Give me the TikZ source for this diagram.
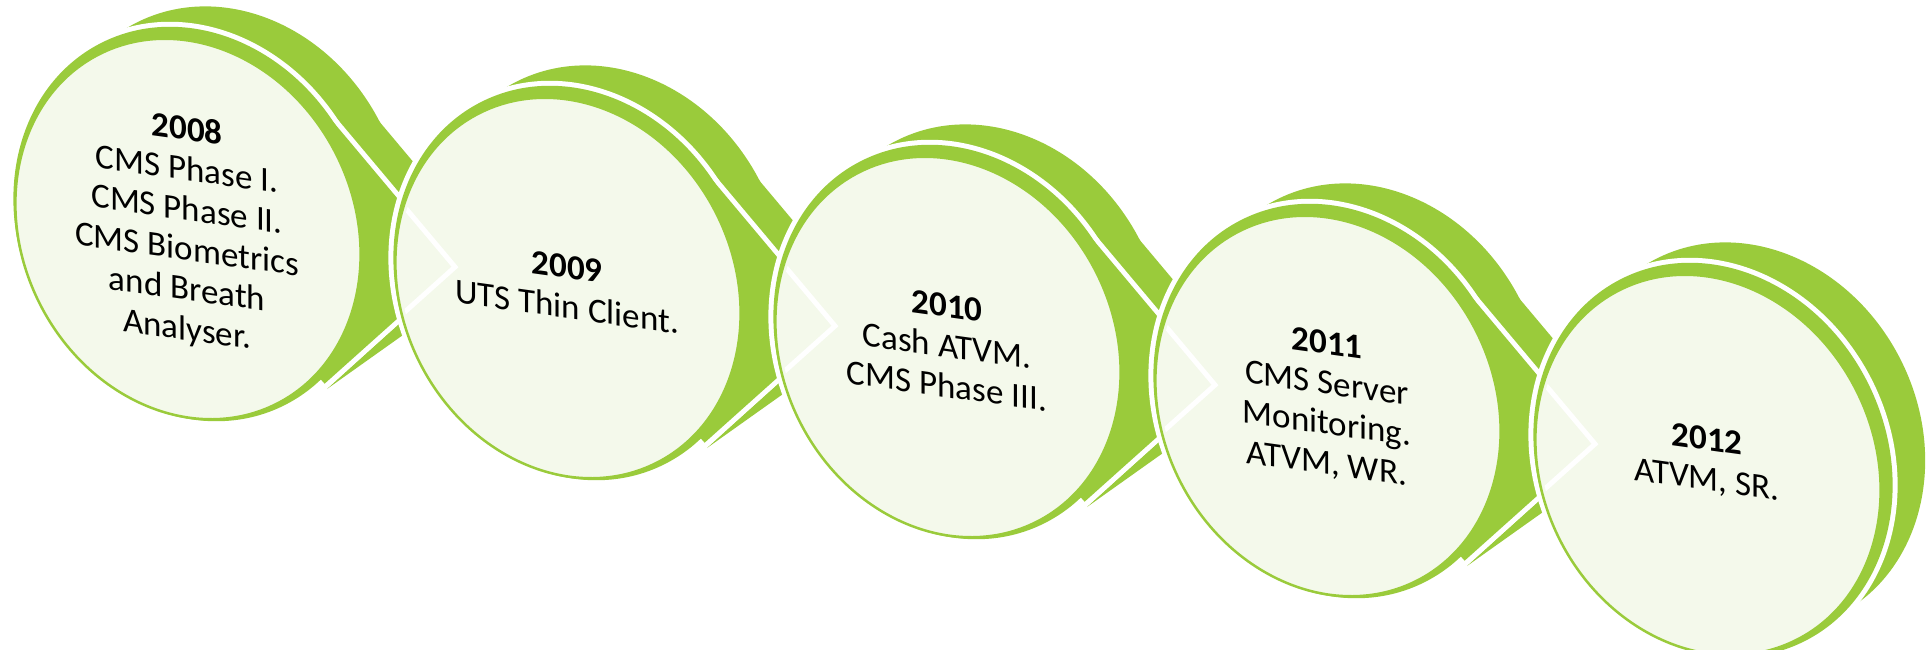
\documentclass[tikz,border=0pt]{standalone}
\usepackage{fontspec}
\setmainfont{Carlito}
\definecolor{lg}{RGB}{154,203,59}
\definecolor{pale}{RGB}{244,249,235}
\def\Mell{(6,-5) ellipse [x radius=173pt, y radius=203pt, rotate=27]}
\def\Fell{(1,0) ellipse [x radius=166pt, y radius=196pt, rotate=27]}
\def\Fclip{(1,0) ellipse [x radius=162pt, y radius=192pt, rotate=27]}
\def\Bell{(40,-28) ellipse [x radius=172pt, y radius=200pt, rotate=27]}
\def\Wedge{(268,38) -- (126.5,-130.5) -- (0,0) -- (137.6,154.7) -- cycle}
\def\BWedge{(296,16) -- (154.5,-152.5) -- (28,-22) -- (268,38) -- cycle}
\def\Strip{(140,160) -- (216,91) -- (216,106) -- cycle}
\def\Chev{(-253.5,-189.5) -- (-112,-21) -- (-242.4,95.7)}
\begin{document}
\begin{tikzpicture}[x=1pt,y=-1pt,
  fface/.style={fill=pale, draw=lg, line width=2.5pt},
  whiteedge/.style={draw=white, line width=10pt, line join=round},
  chev/.style={draw=white, line width=5pt, line join=miter},
  lbl/.style={align=center, yslant=-0.14, font=\fontsize{35}{40}\selectfont, text=black, inner sep=0pt}]
\useasboundingbox[fill=white] (0,0) rectangle (1929,650);
% back layer
\foreach \k in {0,...,4}{
  \begin{scope}[shift={({187+380*\k},{229+59*\k})}]
    \fill[lg] \Bell;
    \ifnum\k<4
      \fill[lg] \BWedge;
      \fill[lg] \Strip;
    \fi
  \end{scope}
}
% middle and front layers
\foreach \k in {0,...,4}{
  \begin{scope}[shift={({187+380*\k},{229+59*\k})}]
    \path[whiteedge] \Mell;
    \ifnum\k<4 \path[whiteedge] \Wedge; \fi
    \fill[lg] \Mell;
    \ifnum\k<4 \fill[lg] \Wedge; \fi
    \path[fface] \Fell;
    \ifnum\k>0
      \begin{scope}
        \clip \Fclip;
        \draw[chev] \Chev;
      \end{scope}
    \fi
  \end{scope}
}
\node[lbl] (t2008) at (187,231) {\textbf{2008}\\CMS Phase I.\\CMS Phase II.\\CMS Biometrics\\and Breath\\Analyser.};
\node[lbl] (t2009) at (567,287) {\textbf{2009}\\UTS Thin Client.};
\node[lbl] (t2010) at (947,346) {\textbf{2010}\\Cash ATVM.\\CMS Phase III.};
\node[lbl] (t2011) at (1327,405) {\textbf{2011}\\CMS Server\\Monitoring.\\ATVM, WR.};
\node[lbl] (t2012) at (1707,461) {\textbf{2012}\\ATVM, SR.};
\end{tikzpicture}
\end{document}
